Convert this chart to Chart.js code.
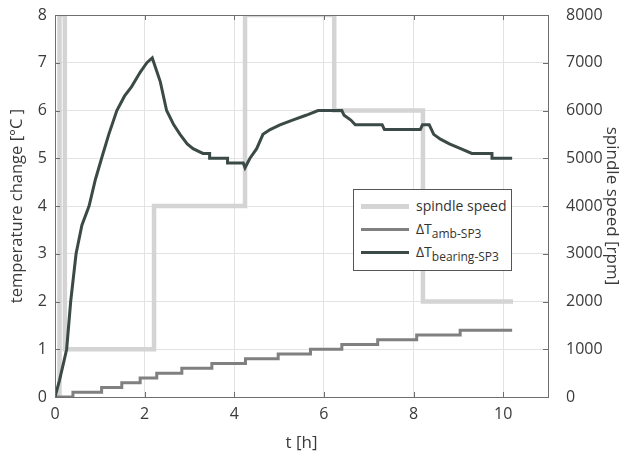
<!DOCTYPE html>
<html>
<head>
<meta charset="utf-8">
<script src="https://cdn.jsdelivr.net/npm/chart.js@4/dist/chart.umd.min.js"></script>
<style>
  html, body { margin: 0; padding: 0; background: #fff; }
  #wrap { position: relative; width: 629px; height: 457px; }
  #legend {
    position: absolute; left: 353px; top: 189px; width: 157px; height: 80px;
    border: 1px solid #555; background: #fff;
    font-family: "Open Sans", sans-serif; font-size: 14px; color: #333;
  }
  #legend .row { position: absolute; left: 0; height: 22px; line-height: 22px; }
  #legend .swatch { position: absolute; left: 7px; width: 48px; }
  #legend .label { position: absolute; left: 62px; white-space: nowrap; }
  #legend sub { font-size: 12px; vertical-align: -4px; line-height: 0; }
</style>
</head>
<body>
<div id="wrap">
  <canvas id="chart" width="629" height="457"></canvas>
  <div id="legend"></div>
</div>
<script>
// time axis [h]
let xTicks = [0, 2, 4, 6, 8, 10];
let tempTicks = [0, 1, 2, 3, 4, 5, 6, 7, 8];
let speedTicks = [0, 1000, 2000, 3000, 4000, 5000, 6000, 7000, 8000];

// spindle speed [rpm], step changes
let speedT = [0, 0.1, 0.22, 2.21, 4.24, 6.23, 8.21, 10.22];
let speedVal = [0, 8000, 1000, 4000, 8000, 6000, 2000, 2000];

// ambient temperature change [°C], step changes
let ambT = [0, 0.4, 1.04, 1.49, 1.9, 2.27, 2.83, 3.5, 4.25, 4.98, 5.7, 6.4, 7.2, 8.07, 9.04, 10.2];
let ambVal = [0, 0.1, 0.2, 0.3, 0.4, 0.5, 0.6, 0.7, 0.8, 0.9, 1.0, 1.1, 1.2, 1.3, 1.4, 1.4];

// bearing temperature change [°C]
let bearingT = [0, 0.1, 0.2, 0.26, 0.35, 0.47, 0.6, 0.76, 0.9, 1.04, 1.2, 1.38, 1.55, 1.71, 1.9, 2.05, 2.17,
  2.35, 2.49, 2.65, 2.79, 2.95, 3.08, 3.3, 3.45, 3.45, 3.85, 3.85, 4.2, 4.24, 4.35, 4.5, 4.64, 4.8, 5.02,
  5.3, 5.6, 5.87, 6.4, 6.45, 6.6, 6.7, 7.3, 7.35, 8.15, 8.2, 8.35, 8.45, 8.6, 8.8, 9.05, 9.3, 9.75, 9.75, 10.2];
let bearingVal = [0, 0.35, 0.75, 1.0, 2.0, 3.0, 3.6, 4.0, 4.55, 5.0, 5.5, 6.0, 6.3, 6.5, 6.8, 7.0, 7.1,
  6.6, 6.0, 5.7, 5.5, 5.3, 5.2, 5.1, 5.1, 5.0, 5.0, 4.9, 4.9, 4.8, 5.0, 5.2, 5.5, 5.6, 5.7,
  5.8, 5.9, 6.0, 6.0, 5.9, 5.8, 5.7, 5.7, 5.6, 5.6, 5.7, 5.7, 5.5, 5.4, 5.3, 5.2, 5.1, 5.1, 5.0, 5.0];

let colSpeed = "#d4d4d4";
let colAmb = "#808080";
let colBearing = "#3b4a47";
let textColor = "#3a3a3a";
let font = "'Open Sans', sans-serif";

function toPoints(xs, ys) {
  return xs.map((x, i) => ({ x: x, y: ys[i] }));
}

// html legend, so the subscripts stay real text
document.getElementById("legend").innerHTML =
  '<div class="row" style="top:5px"><div class="swatch" style="top:9px;height:5px;background:' + colSpeed + '"></div><div class="label">spindle speed</div></div>' +
  '<div class="row" style="top:28px"><div class="swatch" style="top:10px;height:3px;background:' + colAmb + '"></div><div class="label">ΔT<sub>amb-SP3</sub></div></div>' +
  '<div class="row" style="top:51px"><div class="swatch" style="top:10px;height:3px;background:' + colBearing + '"></div><div class="label">ΔT<sub>bearing-SP3</sub></div></div>';

// box round the plot and inward tick marks
const frame = {
  id: "frame",
  afterDatasetsDraw(chart) {
    const a = chart.chartArea;
    const ctx = chart.ctx;
    ctx.save();
    ctx.strokeStyle = "#6e6e6e";
    ctx.lineWidth = 1;
    ctx.beginPath();
    xTicks.forEach((v) => {
      const px = Math.round(chart.scales.x.getPixelForValue(v)) + 0.5;
      ctx.moveTo(px, a.bottom); ctx.lineTo(px, a.bottom - 5);
      ctx.moveTo(px, a.top); ctx.lineTo(px, a.top + 5);
    });
    tempTicks.forEach((v) => {
      const py = Math.round(chart.scales.y.getPixelForValue(v)) + 0.5;
      ctx.moveTo(a.left, py); ctx.lineTo(a.left + 5, py);
    });
    speedTicks.forEach((v) => {
      const py = Math.round(chart.scales.y1.getPixelForValue(v)) + 0.5;
      ctx.moveTo(a.right, py); ctx.lineTo(a.right - 5, py);
    });
    ctx.stroke();
    ctx.strokeRect(Math.round(a.left) + 0.5, Math.round(a.top) + 0.5,
      Math.round(a.right - a.left), Math.round(a.bottom - a.top));
    ctx.restore();
  },
};

function fixWidth(w) {
  return (s) => { s.width = w; s.paddingTop = 0; s.paddingBottom = 0; };
}

new Chart("chart", {
  type: "line",
  plugins: [frame],
  data: {
    datasets: [
      {
        label: "ΔT bearing-SP3",
        data: toPoints(bearingT, bearingVal),
        borderColor: colBearing,
        borderWidth: 3,
        pointRadius: 0,
        yAxisID: "y",
        order: 0,
      },
      {
        label: "ΔT amb-SP3",
        data: toPoints(ambT, ambVal),
        borderColor: colAmb,
        borderWidth: 3,
        pointRadius: 0,
        stepped: "before",
        yAxisID: "y",
        order: 1,
      },
      {
        label: "spindle speed",
        data: toPoints(speedT, speedVal),
        borderColor: colSpeed,
        borderWidth: 4.5,
        pointRadius: 0,
        stepped: "before",
        yAxisID: "y1",
        order: 2,
      },
    ],
  },
  options: {
    responsive: false,
    animation: false,
    layout: { padding: { top: 15, left: 0, right: 0, bottom: 0 } },
    plugins: {
      legend: { display: false },
      tooltip: { enabled: false },
    },
    scales: {
      x: {
        type: "linear",
        min: 0,
        max: 11,
        afterBuildTicks: (s) => { s.ticks = xTicks.map((v) => ({ value: v })); },
        afterFit: (s) => { s.height = 60; s.paddingLeft = 0; s.paddingRight = 0; },
        grid: { color: "#e3e3e3", drawTicks: false },
        border: { color: "#6e6e6e" },
        ticks: { color: textColor, font: { family: font, size: 16 }, padding: 8 },
        title: { display: true, text: "t [h]", color: textColor, font: { family: font, size: 17 }, padding: { top: 0 } },
      },
      y: {
        position: "left",
        min: 0,
        max: 8,
        afterBuildTicks: (s) => { s.ticks = tempTicks.map((v) => ({ value: v })); },
        afterFit: fixWidth(55),
        grid: { color: "#e3e3e3", drawTicks: false },
        border: { color: "#6e6e6e" },
        ticks: { color: textColor, font: { family: font, size: 16 }, padding: 8 },
        title: { display: true, text: "temperature change [°C ]", color: textColor, font: { family: font, size: 16.5 }, padding: { top: 7, bottom: 0 } },
      },
      y1: {
        position: "right",
        min: 0,
        max: 8000,
        afterBuildTicks: (s) => { s.ticks = speedTicks.map((v) => ({ value: v })); },
        afterFit: fixWidth(81),
        grid: { display: false, drawTicks: false },
        border: { color: "#6e6e6e" },
        ticks: {
          color: textColor, font: { family: font, size: 16 }, padding: 18,
          callback: (v) => String(v),
        },
        title: { display: true, text: "spindle speed [rpm]", color: textColor, font: { family: font, size: 17 }, padding: { top: 7, bottom: 0 } },
      },
    },
  },
});
</script>
</body>
</html>
